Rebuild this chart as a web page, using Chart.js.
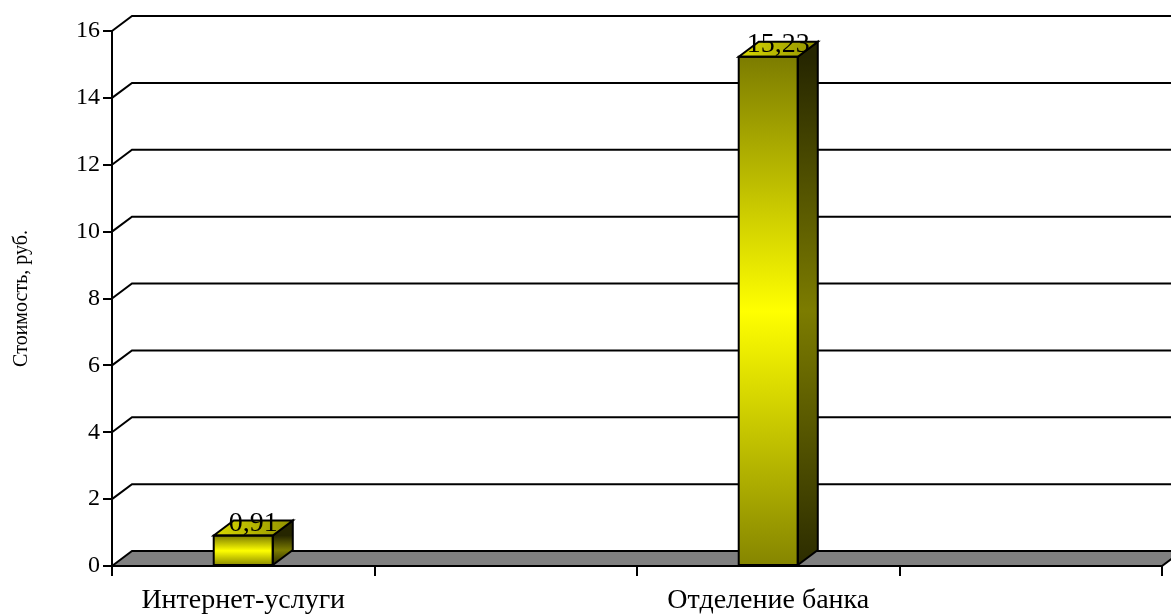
<!DOCTYPE html>
<html>
<head>
<meta charset="utf-8">
<script src="https://cdn.jsdelivr.net/npm/chart.js@4.4.1/dist/chart.umd.min.js"></script>
<style>
  html, body { margin: 0; padding: 0; background: #ffffff; }
  #wrap { width: 1171px; height: 615px; position: relative; }
</style>
</head>
<body>
<div id="wrap"><canvas id="chart" width="1171" height="615"></canvas></div>
<script>
// Categories (empty slots keep the spacing between the two groups)
const categories = ['Интернет-услуги', '', 'Отделение банка', ''];
// Cost per operation, rubles
const costs = [0.91, null, 15.23, null];
// Value axis range
const axisMin = 0;
const axisMax = 16;
const axisStep = 2;
const axisTitle = 'Стоимость, руб.';

const FONT = '"Liberation Serif", "Times New Roman", serif';
const DEPTH_X = 20;   // 3D depth offset
const DEPTH_Y = -15;

function fmt(v) { return String(v).replace('.', ','); }

function frontFill(ctx) {
  const chart = ctx.chart;
  const v = ctx.raw;
  const ys = chart.scales && chart.scales.y;
  if (typeof v !== 'number' || !ys) return '#ffff00';
  const top = ys.getPixelForValue(v);
  const base = ys.getPixelForValue(0);
  if (!isFinite(top) || !isFinite(base) || top === base) return '#ffff00';
  const g = chart.ctx.createLinearGradient(0, top, 0, base);
  g.addColorStop(0, '#7c7c00');
  g.addColorStop(0.5, '#ffff00');
  g.addColorStop(1, '#858500');
  return g;
}

const box3d = {
  id: 'box3d',
  beforeDatasetsDraw(chart) {
    const { ctx, chartArea: a, scales } = chart;
    const ys = scales.y;
    ctx.save();
    ctx.lineWidth = 2;
    ctx.strokeStyle = '#000';
    ctx.lineJoin = 'miter';
    // back-wall gridlines
    ys.ticks.forEach(t => {
      if (t.value === axisMin) return;
      const y = ys.getPixelForValue(t.value);
      ctx.beginPath();
      ctx.moveTo(a.left, y);
      ctx.lineTo(a.left + DEPTH_X, y + DEPTH_Y);
      ctx.lineTo(a.right + DEPTH_X, y + DEPTH_Y);
      ctx.stroke();
    });
    // floor
    const b = ys.getPixelForValue(axisMin);
    ctx.beginPath();
    ctx.moveTo(a.left, b);
    ctx.lineTo(a.left + DEPTH_X, b + DEPTH_Y);
    ctx.lineTo(a.right + DEPTH_X, b + DEPTH_Y);
    ctx.lineTo(a.right, b);
    ctx.closePath();
    ctx.fillStyle = '#808080';
    ctx.fill();
    ctx.stroke();
    ctx.restore();
  },
  afterDatasetsDraw(chart) {
    const { ctx } = chart;
    const meta = chart.getDatasetMeta(0);
    ctx.save();
    ctx.lineWidth = 2;
    ctx.strokeStyle = '#000';
    ctx.lineJoin = 'miter';
    meta.data.forEach((bar, i) => {
      const v = costs[i];
      if (v == null) return;
      const { x, y, base, width } = bar.getProps(['x', 'y', 'base', 'width'], true);
      if (![x, y, base, width].every(isFinite)) return;
      const l = x - width / 2, r = x + width / 2;
      // side face
      const sg = ctx.createLinearGradient(0, y, 0, base);
      sg.addColorStop(0, '#262600');
      sg.addColorStop(0.5, '#7c7c00');
      sg.addColorStop(1, '#2c2c00');
      ctx.beginPath();
      ctx.moveTo(r, y);
      ctx.lineTo(r + DEPTH_X, y + DEPTH_Y);
      ctx.lineTo(r + DEPTH_X, base + DEPTH_Y);
      ctx.lineTo(r, base);
      ctx.closePath();
      ctx.fillStyle = sg;
      ctx.fill();
      ctx.stroke();
      // top face
      const tg = ctx.createLinearGradient(l, 0, r + DEPTH_X, 0);
      tg.addColorStop(0, '#dada00');
      tg.addColorStop(1, '#909000');
      ctx.beginPath();
      ctx.moveTo(l, y);
      ctx.lineTo(l + DEPTH_X, y + DEPTH_Y);
      ctx.lineTo(r + DEPTH_X, y + DEPTH_Y);
      ctx.lineTo(r, y);
      ctx.closePath();
      ctx.fillStyle = tg;
      ctx.fill();
      ctx.stroke();
      // front outline
      ctx.strokeRect(l, y, width, base - y);
      // value label
      ctx.fillStyle = '#000';
      ctx.font = '28px ' + FONT;
      ctx.textAlign = 'center';
      ctx.textBaseline = 'alphabetic';
      ctx.fillText(fmt(v), x + DEPTH_X / 2, y - 5);
    });
    ctx.restore();
  }
};

new Chart(document.getElementById('chart'), {
  type: 'bar',
  data: {
    labels: categories,
    datasets: [{
      data: costs,
      backgroundColor: frontFill,
      borderWidth: 0,
      barPercentage: 0.225,
      categoryPercentage: 1
    }]
  },
  options: {
    responsive: false,
    animation: false,
    layout: { padding: { top: 31, right: 9, left: 0, bottom: 0 } },
    plugins: { legend: { display: false }, tooltip: { enabled: false } },
    scales: {
      x: {
        offset: true,
        grid: { offset: true, drawOnChartArea: false, drawTicks: true, tickLength: 10, color: '#000', lineWidth: 2 },
        border: { display: true, color: '#000', width: 2 },
        ticks: { color: '#000', font: { family: FONT, size: 28 }, padding: 8, maxRotation: 0, autoSkip: false },
        afterFit(s) { s.height = 49; }
      },
      y: {
        min: axisMin,
        max: axisMax,
        grid: { drawOnChartArea: false, drawTicks: true, tickLength: 9, color: '#000', lineWidth: 2 },
        border: { display: true, color: '#000', width: 2 },
        ticks: { stepSize: axisStep, color: '#000', font: { family: FONT, size: 24 }, padding: 3 },
        title: { display: true, text: axisTitle, color: '#000', font: { family: FONT, size: 20 }, padding: { top: 10, bottom: 0 } },
        afterFit(s) { s.width = 112; }
      }
    }
  },
  plugins: [box3d]
});
</script>
</body>
</html>
